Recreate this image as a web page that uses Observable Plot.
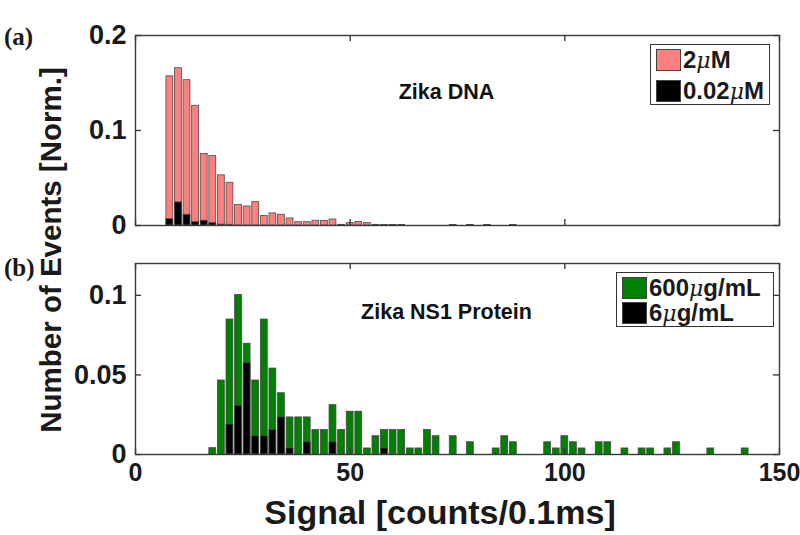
<!DOCTYPE html>
<html><head><meta charset="utf-8">
<script src="https://cdn.jsdelivr.net/npm/d3@7"></script>
<script src="https://cdn.jsdelivr.net/npm/@observablehq/plot@0.6"></script>
<style>
body{margin:0;background:#fff;}
#wrap{position:relative;width:800px;height:535px;font-family:"Liberation Sans",Arial,sans-serif;font-weight:bold;color:#1a1a1a;overflow:hidden;}
.abs{position:absolute;white-space:nowrap;}
.panel{position:absolute;left:0;}
.lg{position:absolute;background:#fff;border:1px solid #333;}
.sw{position:absolute;border:1px solid #444;box-sizing:border-box;}
.lt{position:absolute;font-size:24px;line-height:24px;white-space:nowrap;}
.mu{font-style:italic;font-weight:normal;font-family:"DejaVu Serif",serif;font-size:22px;}
</style></head><body><div id="wrap"></div>
<script>
// ---------- data ----------
const xTicks = [0, 50, 100, 150];
const topYTicks = [0, 0.1, 0.2];
const botYTicks = [0, 0.05, 0.1];

// Panel (a) Zika DNA, 2 µM
const dna2Centers = [8,10,12,14,16,18,20,22,24,26,28,30,32,34,36,38,40,42,44,46,50,52,54];
const dna2Values  = [0.157,0.1655,0.153,0.126,0.0754,0.0732,0.0528,0.045,0.0215,0.020,0.0246,0.0099,0.0127,0.0113,0.0074,0.0035,0.0035,0.005,0.0048,0.0063,0.0025,0.0037,0.0025];
// Panel (a) Zika DNA, 0.02 µM
const dna002Centers = [8,10,12,14,16,18,20,22,48,56,58,60,62,74,78,82,88];
const dna002Values  = [0.0067,0.0243,0.0113,0.0035,0.005,0.0025,0.001,0.0007,0.0007,0.0006,0.0006,0.0006,0.0006,0.0006,0.0006,0.0006,0.0006];

// Panel (b) Zika NS1 protein, 600 µg/mL
const ns600Centers = [18,20,22,24,26,28,30,32,34,36,38,40,42,44,46,48,50,52,54,56,58,60,62,64,66,68,70,74,78,84,86,88,96,98,100,102,104,108,110,114,118,120,124,126,134,142];
const ns600Values  = [0.004,0.0465,0.0848,0.1002,0.0696,0.0465,0.0848,0.054,0.0385,0.0233,0.0233,0.0233,0.0154,0.0154,0.031,0.0154,0.0269,0.0269,0.0038,0.0115,0.0154,0.0154,0.0154,0.0038,0.0038,0.0154,0.0115,0.0115,0.0077,0.0038,0.0115,0.0077,0.0077,0.0038,0.0115,0.0077,0.0038,0.0077,0.0077,0.0038,0.0038,0.0038,0.0038,0.0077,0.0038,0.0038];
// Panel (b) Zika NS1 protein, 6 µg/mL
const ns6Centers = [22,24,26,28,30,32,34,36,40,46,58];
const ns6Values  = [0.0188,0.0306,0.0573,0.0115,0.0115,0.0154,0.0233,0.0038,0.0077,0.0077,0.0038];

const binWidth = 2;
const barFrac = 0.8;

// ---------- helpers ----------
const rows = (cs, vs) => cs.map((c, i) => ({c, v: vs[i]}));
const W = 800, ML = 135, MR = 21;
const plotW = W - ML - MR;
const tickLen = 6;
const axisColor = "#3a3a3a";

function panel({height, marginTop, marginBottom, yDomain, yTicks, series, showXLabels, title, titleDx, titleDy}) {
  const plotH = height - marginTop - marginBottom;
  const marks = [];
  for (const s of series) {
    marks.push(Plot.rect(rows(s.c, s.v), {
      x1: d => d.c - binWidth * barFrac / 2,
      x2: d => d.c + binWidth * barFrac / 2,
      y1: 0, y2: "v",
      fill: s.fill, stroke: "#4a4a4a", strokeWidth: 0.8
    }));
  }
  marks.push(
    Plot.frame({stroke: axisColor, strokeWidth: 1.4}),
    Plot.tickX(xTicks, {x: d => d, insetTop: plotH - tickLen, stroke: axisColor, strokeWidth: 1.4}),
    Plot.tickX(xTicks, {x: d => d, insetBottom: plotH - tickLen, stroke: axisColor, strokeWidth: 1.4}),
    Plot.tickY(yTicks, {y: d => d, insetRight: plotW - tickLen, stroke: axisColor, strokeWidth: 1.4}),
    Plot.tickY(yTicks, {y: d => d, insetLeft: plotW - tickLen, stroke: axisColor, strokeWidth: 1.4}),
    Plot.axisY(yTicks, {tickSize: 0, tickPadding: 9, fontSize: 27, fontWeight: "bold", tickFormat: d => String(d), label: null}),
    Plot.text([title], {frameAnchor: "top", lineAnchor: "middle", dx: titleDx, dy: titleDy, fontSize: 21.5, fontWeight: "bold", fill: "#111"})
  );
  if (showXLabels) {
    marks.push(Plot.axisX(xTicks, {tickSize: 0, tickPadding: 9, fontSize: 25, fontWeight: "bold", tickFormat: d => String(d), label: null}));
  }
  return Plot.plot({
    width: W, height,
    marginLeft: ML, marginRight: MR, marginTop, marginBottom,
    x: {domain: [0, 150], axis: null},
    y: {domain: yDomain, axis: null},
    style: {fontFamily: "'Liberation Sans', Arial, sans-serif", color: "#1a1a1a", background: "transparent", overflow: "visible"},
    marks
  });
}

const wrap = document.getElementById("wrap");

const topPanel = panel({
  height: 240, marginTop: 35, marginBottom: 15,
  yDomain: [0, 0.2], yTicks: topYTicks,
  series: [{c: dna2Centers, v: dna2Values, fill: "#ff7f7f"}, {c: dna002Centers, v: dna002Values, fill: "#000"}],
  showXLabels: false, title: "Zika DNA", titleDx: -11, titleDy: 57
});
topPanel.classList.add("panel"); topPanel.style.top = "0px";
wrap.appendChild(topPanel);

const botPanel = panel({
  height: 250, marginTop: 23, marginBottom: 36,
  yDomain: [0, 0.12], yTicks: botYTicks,
  series: [{c: ns600Centers, v: ns600Values, fill: "#008000"}, {c: ns6Centers, v: ns6Values, fill: "#000"}],
  showXLabels: true, title: "Zika NS1 Protein", titleDx: -11, titleDy: 49
});
botPanel.classList.add("panel"); botPanel.style.top = "240px";
wrap.appendChild(botPanel);

// ---------- text & legends ----------
function addDiv(html, css, cls = "abs") {
  const d = document.createElement("div");
  d.className = cls; d.innerHTML = html; Object.assign(d.style, css); wrap.appendChild(d); return d;
}
addDiv("Signal [counts/0.1ms]", {left: "0px", width: "880px", textAlign: "center", top: "493px", fontSize: "34px", lineHeight: "38px"});
addDiv("Number of Events [Norm.]", {left: "51px", top: "250px", fontSize: "29.5px", lineHeight: "32px", transform: "translate(-50%,-50%) rotate(-90deg)"});
addDiv("(a)", {left: "4px", top: "23px", fontSize: "25px", fontFamily: "'Liberation Serif', serif"});
addDiv("(b)", {left: "4px", top: "254px", fontSize: "25px", fontFamily: "'Liberation Serif', serif"});

const lg1 = addDiv("", {left: "650px", top: "44px", width: "118px", height: "59px"}, "lg");
const lg2 = addDiv("", {left: "616px", top: "272px", width: "156px", height: "53px"}, "lg");
function legendItem(box, fill, label, y, h) {
  const s = document.createElement("div"); s.className = "sw";
  Object.assign(s.style, {left: "5px", top: y + "px", width: "25px", height: h + "px", background: fill});
  box.appendChild(s);
  const t = document.createElement("div"); t.className = "lt"; t.innerHTML = label;
  Object.assign(t.style, {left: "32px", top: (y + h / 2 - 12) + "px"});
  box.appendChild(t);
}
const legendTop = [["#ff7f7f", "2<span class='mu'>μ</span>M"], ["#000", "0.02<span class='mu'>μ</span>M"]];
const legendBot = [["#008000", "600<span class='mu'>μ</span>g/mL"], ["#000", "6<span class='mu'>μ</span>g/mL"]];
legendTop.forEach(([f, l], i) => legendItem(lg1, f, l, 4 + i * 31, 22));
legendBot.forEach(([f, l], i) => legendItem(lg2, f, l, 4 + i * 25, 22));
</script></body></html>
